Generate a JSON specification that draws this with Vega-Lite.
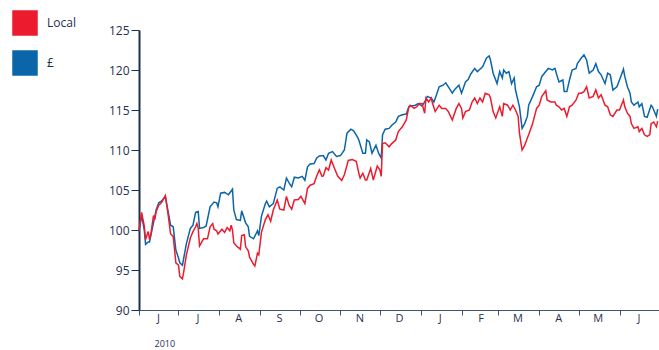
{
  "$schema": "https://vega.github.io/schema/vega-lite/v6.json",
  "width": 520,
  "height": 280,
  "autosize": "none",
  "padding": {"left": 139, "top": 30, "right": 0, "bottom": 40},
  "background": "white",
  "config": {
    "view": {"stroke": null},
    "font": "Open Sans",
    "axis": {"labelFont": "Open Sans", "titleFont": "Open Sans", "labelColor": "#1f2f52", "titleColor": "#1f2f52", "grid": false}
  },
  "datasets": {
    "local": [
      {"date":"2010-06-01","value":100.0},{"date":"2010-06-03","value":102.2},{"date":"2010-06-05","value":100.5},{"date":"2010-06-06","value":98.8},{"date":"2010-06-08","value":99.8},{"date":"2010-06-09","value":98.8},{"date":"2010-06-10","value":99.5},{"date":"2010-06-12","value":101.8},{"date":"2010-06-13","value":101.3},{"date":"2010-06-14","value":102.3},{"date":"2010-06-16","value":103.1},{"date":"2010-06-18","value":103.4},{"date":"2010-06-21","value":104.3},{"date":"2010-06-23","value":102.1},{"date":"2010-06-25","value":99.5},{"date":"2010-06-27","value":99.2},{"date":"2010-06-29","value":95.9},
      {"date":"2010-07-01","value":95.6},{"date":"2010-07-02","value":94.2},{"date":"2010-07-04","value":93.9},{"date":"2010-07-05","value":94.8},{"date":"2010-07-07","value":96.9},{"date":"2010-07-10","value":99.0},{"date":"2010-07-12","value":99.8},{"date":"2010-07-14","value":100.4},{"date":"2010-07-15","value":100.8},{"date":"2010-07-16","value":100.2},{"date":"2010-07-17","value":98.0},{"date":"2010-07-20","value":98.9},{"date":"2010-07-23","value":98.9},{"date":"2010-07-25","value":100.4},{"date":"2010-07-27","value":100.8},{"date":"2010-07-28","value":100.1},{"date":"2010-07-30","value":99.9},{"date":"2010-07-31","value":99.5},
      {"date":"2010-08-03","value":100.1},{"date":"2010-08-05","value":99.7},{"date":"2010-08-07","value":100.3},{"date":"2010-08-09","value":99.9},{"date":"2010-08-10","value":100.6},{"date":"2010-08-11","value":100.0},{"date":"2010-08-12","value":98.4},{"date":"2010-08-14","value":98.0},{"date":"2010-08-17","value":97.6},{"date":"2010-08-18","value":99.3},{"date":"2010-08-20","value":99.4},{"date":"2010-08-21","value":97.9},{"date":"2010-08-23","value":97.4},{"date":"2010-08-24","value":96.6},{"date":"2010-08-27","value":95.7},{"date":"2010-08-28","value":95.5},{"date":"2010-08-30","value":97.1},{"date":"2010-08-31","value":96.9},
      {"date":"2010-09-02","value":99.7},{"date":"2010-09-05","value":101.3},{"date":"2010-09-07","value":101.9},{"date":"2010-09-09","value":101.1},{"date":"2010-09-11","value":102.5},{"date":"2010-09-14","value":103.75},{"date":"2010-09-16","value":102.6},{"date":"2010-09-19","value":102.5},{"date":"2010-09-21","value":104.2},{"date":"2010-09-23","value":103.1},{"date":"2010-09-25","value":102.6},{"date":"2010-09-27","value":103.75},{"date":"2010-09-30","value":103.8},
      {"date":"2010-10-02","value":104.2},{"date":"2010-10-05","value":103.3},{"date":"2010-10-07","value":105.2},{"date":"2010-10-09","value":105.6},{"date":"2010-10-12","value":105.8},{"date":"2010-10-14","value":106.75},{"date":"2010-10-16","value":107.5},{"date":"2010-10-18","value":106.7},{"date":"2010-10-19","value":106.75},{"date":"2010-10-21","value":107.8},{"date":"2010-10-23","value":107.5},{"date":"2010-10-25","value":108.75},{"date":"2010-10-28","value":107.5},{"date":"2010-10-30","value":106.7},
      {"date":"2010-11-02","value":106.2},{"date":"2010-11-04","value":106.9},{"date":"2010-11-07","value":108.7},{"date":"2010-11-10","value":108.8},{"date":"2010-11-13","value":108.6},{"date":"2010-11-15","value":107.1},{"date":"2010-11-16","value":106.5},{"date":"2010-11-18","value":107.1},{"date":"2010-11-20","value":106.25},{"date":"2010-11-21","value":106.25},{"date":"2010-11-24","value":107.7},{"date":"2010-11-26","value":106.25},{"date":"2010-11-29","value":108.0},
      {"date":"2010-12-01","value":107.5},{"date":"2010-12-02","value":106.7},{"date":"2010-12-03","value":110.8},{"date":"2010-12-05","value":110.9},{"date":"2010-12-08","value":110.4},{"date":"2010-12-10","value":110.8},{"date":"2010-12-13","value":111.25},{"date":"2010-12-15","value":112.3},{"date":"2010-12-18","value":112.9},{"date":"2010-12-21","value":113.75},{"date":"2010-12-23","value":115.4},{"date":"2010-12-24","value":115.6},{"date":"2010-12-27","value":115.2},{"date":"2010-12-29","value":115.4},{"date":"2010-12-31","value":115.8},
      {"date":"2011-01-02","value":115.8},{"date":"2011-01-04","value":114.6},{"date":"2011-01-05","value":116.5},{"date":"2011-01-07","value":116.0},{"date":"2011-01-09","value":116.5},{"date":"2011-01-10","value":115.8},{"date":"2011-01-12","value":114.8},{"date":"2011-01-15","value":115.6},{"date":"2011-01-17","value":115.2},{"date":"2011-01-20","value":115.2},{"date":"2011-01-22","value":114.8},{"date":"2011-01-25","value":113.75},{"date":"2011-01-28","value":115.2},{"date":"2011-01-30","value":115.8},
      {"date":"2011-02-01","value":115.2},{"date":"2011-02-02","value":114.0},{"date":"2011-02-04","value":114.8},{"date":"2011-02-07","value":115.0},{"date":"2011-02-09","value":116.0},{"date":"2011-02-11","value":116.5},{"date":"2011-02-13","value":115.8},{"date":"2011-02-15","value":116.5},{"date":"2011-02-17","value":116.0},{"date":"2011-02-19","value":117.1},{"date":"2011-02-22","value":116.9},{"date":"2011-02-23","value":116.5},{"date":"2011-02-25","value":114.8},{"date":"2011-02-27","value":114.0},
      {"date":"2011-03-02","value":115.4},{"date":"2011-03-04","value":114.2},{"date":"2011-03-05","value":115.8},{"date":"2011-03-08","value":115.6},{"date":"2011-03-10","value":115.0},{"date":"2011-03-12","value":115.6},{"date":"2011-03-14","value":115.0},{"date":"2011-03-16","value":114.2},{"date":"2011-03-17","value":112.1},{"date":"2011-03-19","value":110.0},{"date":"2011-03-21","value":110.6},{"date":"2011-03-23","value":111.5},{"date":"2011-03-24","value":111.9},{"date":"2011-03-27","value":113.3},{"date":"2011-03-30","value":115.2},
      {"date":"2011-04-01","value":115.6},{"date":"2011-04-03","value":116.7},{"date":"2011-04-06","value":117.4},{"date":"2011-04-07","value":116.25},{"date":"2011-04-10","value":116.0},{"date":"2011-04-13","value":116.0},{"date":"2011-04-14","value":115.6},{"date":"2011-04-16","value":115.4},{"date":"2011-04-18","value":115.0},{"date":"2011-04-20","value":115.2},{"date":"2011-04-22","value":114.2},{"date":"2011-04-24","value":115.4},{"date":"2011-04-26","value":115.6},{"date":"2011-04-29","value":116.25},
      {"date":"2011-05-01","value":117.1},{"date":"2011-05-03","value":117.1},{"date":"2011-05-05","value":117.3},{"date":"2011-05-07","value":117.9},{"date":"2011-05-09","value":116.5},{"date":"2011-05-12","value":116.7},{"date":"2011-05-14","value":117.5},{"date":"2011-05-16","value":116.5},{"date":"2011-05-18","value":116.9},{"date":"2011-05-21","value":115.6},{"date":"2011-05-23","value":115.4},{"date":"2011-05-25","value":114.4},{"date":"2011-05-27","value":114.2},{"date":"2011-05-30","value":115.0},
      {"date":"2011-06-01","value":115.0},{"date":"2011-06-04","value":116.25},{"date":"2011-06-05","value":115.4},{"date":"2011-06-07","value":114.6},{"date":"2011-06-09","value":114.2},{"date":"2011-06-10","value":113.3},{"date":"2011-06-12","value":112.7},{"date":"2011-06-15","value":112.9},{"date":"2011-06-16","value":112.3},{"date":"2011-06-18","value":112.7},{"date":"2011-06-20","value":111.9},{"date":"2011-06-22","value":111.7},{"date":"2011-06-24","value":111.9},{"date":"2011-06-25","value":113.3},{"date":"2011-06-27","value":113.5},{"date":"2011-06-29","value":112.9},{"date":"2011-06-30","value":113.6}
    ],
    "gbp": [
      {"date":"2010-06-01","value":99.8},{"date":"2010-06-03","value":101.8},{"date":"2010-06-05","value":100.0},{"date":"2010-06-06","value":98.2},{"date":"2010-06-08","value":98.5},{"date":"2010-06-09","value":98.5},{"date":"2010-06-12","value":100.9},{"date":"2010-06-14","value":102.5},{"date":"2010-06-16","value":103.4},{"date":"2010-06-18","value":103.6},{"date":"2010-06-21","value":104.2},{"date":"2010-06-23","value":102.4},{"date":"2010-06-25","value":100.6},{"date":"2010-06-27","value":100.4},{"date":"2010-06-29","value":97.5},
      {"date":"2010-07-01","value":96.5},{"date":"2010-07-02","value":95.9},{"date":"2010-07-04","value":95.6},{"date":"2010-07-05","value":96.5},{"date":"2010-07-07","value":98.3},{"date":"2010-07-10","value":100.2},{"date":"2010-07-12","value":100.6},{"date":"2010-07-14","value":102.2},{"date":"2010-07-16","value":102.3},{"date":"2010-07-17","value":100.2},{"date":"2010-07-20","value":100.3},{"date":"2010-07-22","value":100.5},{"date":"2010-07-25","value":102.9},{"date":"2010-07-28","value":103.5},{"date":"2010-07-30","value":103.4},{"date":"2010-07-31","value":102.9},
      {"date":"2010-08-02","value":104.6},{"date":"2010-08-05","value":104.7},{"date":"2010-08-08","value":104.4},{"date":"2010-08-11","value":105.1},{"date":"2010-08-12","value":102.5},{"date":"2010-08-14","value":101.3},{"date":"2010-08-17","value":101.2},{"date":"2010-08-18","value":102.4},{"date":"2010-08-21","value":100.9},{"date":"2010-08-23","value":100.4},{"date":"2010-08-24","value":99.2},{"date":"2010-08-27","value":98.9},{"date":"2010-08-30","value":99.9},{"date":"2010-08-31","value":99.3},
      {"date":"2010-09-02","value":101.7},{"date":"2010-09-05","value":103.3},{"date":"2010-09-06","value":103.6},{"date":"2010-09-08","value":102.9},{"date":"2010-09-11","value":103.3},{"date":"2010-09-14","value":105.2},{"date":"2010-09-16","value":105.4},{"date":"2010-09-19","value":105.0},{"date":"2010-09-21","value":106.5},{"date":"2010-09-23","value":105.9},{"date":"2010-09-25","value":105.4},{"date":"2010-09-27","value":106.6},{"date":"2010-09-30","value":106.5},
      {"date":"2010-10-03","value":106.7},{"date":"2010-10-05","value":106.2},{"date":"2010-10-07","value":107.9},{"date":"2010-10-09","value":108.25},{"date":"2010-10-12","value":108.3},{"date":"2010-10-14","value":109.0},{"date":"2010-10-16","value":109.25},{"date":"2010-10-19","value":109.3},{"date":"2010-10-21","value":108.75},{"date":"2010-10-23","value":109.6},{"date":"2010-10-26","value":109.8},{"date":"2010-10-29","value":109.2},
      {"date":"2010-11-01","value":109.3},{"date":"2010-11-04","value":110.0},{"date":"2010-11-06","value":112.1},{"date":"2010-11-09","value":112.6},{"date":"2010-11-11","value":112.4},{"date":"2010-11-14","value":111.6},{"date":"2010-11-15","value":111.25},{"date":"2010-11-18","value":109.6},{"date":"2010-11-20","value":109.6},{"date":"2010-11-21","value":111.25},{"date":"2010-11-23","value":111.0},{"date":"2010-11-25","value":109.6},{"date":"2010-11-28","value":110.6},{"date":"2010-11-30","value":109.6},
      {"date":"2010-12-02","value":109.0},{"date":"2010-12-03","value":111.9},{"date":"2010-12-05","value":112.6},{"date":"2010-12-08","value":112.7},{"date":"2010-12-10","value":113.1},{"date":"2010-12-13","value":113.5},{"date":"2010-12-15","value":114.2},{"date":"2010-12-18","value":114.4},{"date":"2010-12-21","value":114.5},{"date":"2010-12-23","value":115.4},{"date":"2010-12-25","value":115.5},{"date":"2010-12-28","value":115.6},{"date":"2010-12-30","value":115.8},
      {"date":"2011-01-02","value":115.5},{"date":"2011-01-04","value":116.0},{"date":"2011-01-06","value":116.7},{"date":"2011-01-09","value":116.5},{"date":"2011-01-11","value":116.0},{"date":"2011-01-13","value":116.9},{"date":"2011-01-15","value":117.9},{"date":"2011-01-18","value":118.1},{"date":"2011-01-20","value":118.4},{"date":"2011-01-22","value":117.9},{"date":"2011-01-25","value":117.1},{"date":"2011-01-27","value":117.6},{"date":"2011-01-30","value":118.1},
      {"date":"2011-02-01","value":117.1},{"date":"2011-02-04","value":118.5},{"date":"2011-02-06","value":118.8},{"date":"2011-02-08","value":119.5},{"date":"2011-02-11","value":120.2},{"date":"2011-02-13","value":119.8},{"date":"2011-02-15","value":120.1},{"date":"2011-02-17","value":120.4},{"date":"2011-02-20","value":121.5},{"date":"2011-02-22","value":121.75},{"date":"2011-02-23","value":121.25},{"date":"2011-02-25","value":119.6},{"date":"2011-02-28","value":118.3},
      {"date":"2011-03-02","value":119.8},{"date":"2011-03-04","value":119.0},{"date":"2011-03-05","value":120.0},{"date":"2011-03-07","value":119.6},{"date":"2011-03-09","value":119.8},{"date":"2011-03-11","value":118.3},{"date":"2011-03-13","value":119.0},{"date":"2011-03-14","value":117.5},{"date":"2011-03-17","value":115.4},{"date":"2011-03-19","value":112.7},{"date":"2011-03-21","value":113.3},{"date":"2011-03-23","value":114.2},{"date":"2011-03-24","value":115.6},{"date":"2011-03-27","value":116.7},{"date":"2011-03-30","value":117.9},
      {"date":"2011-04-01","value":118.1},{"date":"2011-04-03","value":119.2},{"date":"2011-04-06","value":119.8},{"date":"2011-04-08","value":120.2},{"date":"2011-04-11","value":120.0},{"date":"2011-04-13","value":120.2},{"date":"2011-04-14","value":119.6},{"date":"2011-04-16","value":118.5},{"date":"2011-04-19","value":118.75},{"date":"2011-04-20","value":117.3},{"date":"2011-04-22","value":117.3},{"date":"2011-04-24","value":118.75},{"date":"2011-04-26","value":120.0},{"date":"2011-04-29","value":120.2},{"date":"2011-04-30","value":120.8},
      {"date":"2011-05-03","value":121.5},{"date":"2011-05-05","value":121.9},{"date":"2011-05-07","value":121.25},{"date":"2011-05-09","value":119.6},{"date":"2011-05-12","value":120.0},{"date":"2011-05-14","value":120.8},{"date":"2011-05-16","value":119.8},{"date":"2011-05-18","value":119.4},{"date":"2011-05-21","value":118.3},{"date":"2011-05-23","value":119.6},{"date":"2011-05-25","value":119.4},{"date":"2011-05-27","value":117.5},{"date":"2011-05-30","value":117.9},
      {"date":"2011-06-01","value":118.75},{"date":"2011-06-04","value":120.1},{"date":"2011-06-05","value":119.2},{"date":"2011-06-07","value":117.9},{"date":"2011-06-09","value":117.1},{"date":"2011-06-10","value":116.0},{"date":"2011-06-12","value":115.6},{"date":"2011-06-15","value":116.0},{"date":"2011-06-16","value":115.4},{"date":"2011-06-18","value":115.8},{"date":"2011-06-20","value":114.2},{"date":"2011-06-22","value":114.1},{"date":"2011-06-25","value":115.6},{"date":"2011-06-26","value":115.4},{"date":"2011-06-29","value":114.2},{"date":"2011-06-30","value":115.1}
    ]
  },
  "encoding": {
    "x": {
      "field": "date",
      "type": "temporal",
      "scale": {"type": "utc", "domain": [{"year": 2010, "month": 6, "date": 1, "utc": true}, {"year": 2011, "month": 7, "date": 1, "utc": true}]},
      "axis": {
        "values": [
          {"year": 2010, "month": 6, "date": 1, "utc": true},
          {"year": 2010, "month": 7, "date": 1, "utc": true},
          {"year": 2010, "month": 8, "date": 1, "utc": true},
          {"year": 2010, "month": 9, "date": 1, "utc": true},
          {"year": 2010, "month": 10, "date": 1, "utc": true},
          {"year": 2010, "month": 11, "date": 1, "utc": true},
          {"year": 2010, "month": 12, "date": 1, "utc": true},
          {"year": 2011, "month": 1, "date": 1, "utc": true},
          {"year": 2011, "month": 2, "date": 1, "utc": true},
          {"year": 2011, "month": 3, "date": 1, "utc": true},
          {"year": 2011, "month": 4, "date": 1, "utc": true},
          {"year": 2011, "month": 5, "date": 1, "utc": true},
          {"year": 2011, "month": 6, "date": 1, "utc": true}
        ],
        "format": "%b",
        "labelExpr": "substring(datum.label, 0, 1)",
        "labelOffset": 19,
        "labelAlign": "center",
        "labelFlush": false,
        "labelOverlap": false,
        "labelFontSize": 11,
        "labelPadding": -3,
        "tickSize": 5,
        "tickColor": "#3b5479",
        "domainColor": "#3b5479",
        "domainWidth": 1,
        "title": "2010",
        "titleFontSize": 9,
        "titleFontWeight": "normal",
        "titleAnchor": "start",
        "titleAlign": "left",
        "titleBaseline": "top",
        "titleX": 15,
        "titleY": 29
      }
    },
    "y": {
      "field": "value",
      "type": "quantitative",
      "scale": {"domain": [90, 125], "zero": false, "nice": false},
      "axis": {
        "values": [90, 95, 100, 105, 110, 115, 120, 125],
        "title": null,
        "labelFontSize": 12,
        "labelPadding": 2,
        "tickSize": 8,
        "tickColor": "#1f2f52",
        "domainColor": "#1f2f52",
        "domainWidth": 2
      }
    },
    "color": {
      "datum": "",
      "type": "nominal",
      "scale": {"domain": ["Local", "£"], "range": ["#ec1c2e", "#0b66a9"]},
      "legend": {
        "orient": "none",
        "legendX": -127,
        "legendY": -20,
        "title": null,
        "symbolType": "square",
        "symbolSize": 650,
        "symbolStrokeWidth": 0,
        "labelFontSize": 12,
        "labelColor": "#1f2f52",
        "labelFont": "Open Sans",
        "labelOffset": 9,
        "rowPadding": 14,
        "encode": {"symbols": {"update": {"fill": {"scale": "color", "field": "value"}, "fillOpacity": {"value": 1}, "strokeWidth": {"value": 0}}}}
      }
    }
  },
  "layer": [
    {
      "data": {"name": "gbp"},
      "mark": {"type": "line", "strokeWidth": 1.5},
      "encoding": {"color": {"datum": "£", "type": "nominal"}}
    },
    {
      "data": {"name": "local"},
      "mark": {"type": "line", "strokeWidth": 1.5},
      "encoding": {"color": {"datum": "Local", "type": "nominal"}}
    }
  ]
}
